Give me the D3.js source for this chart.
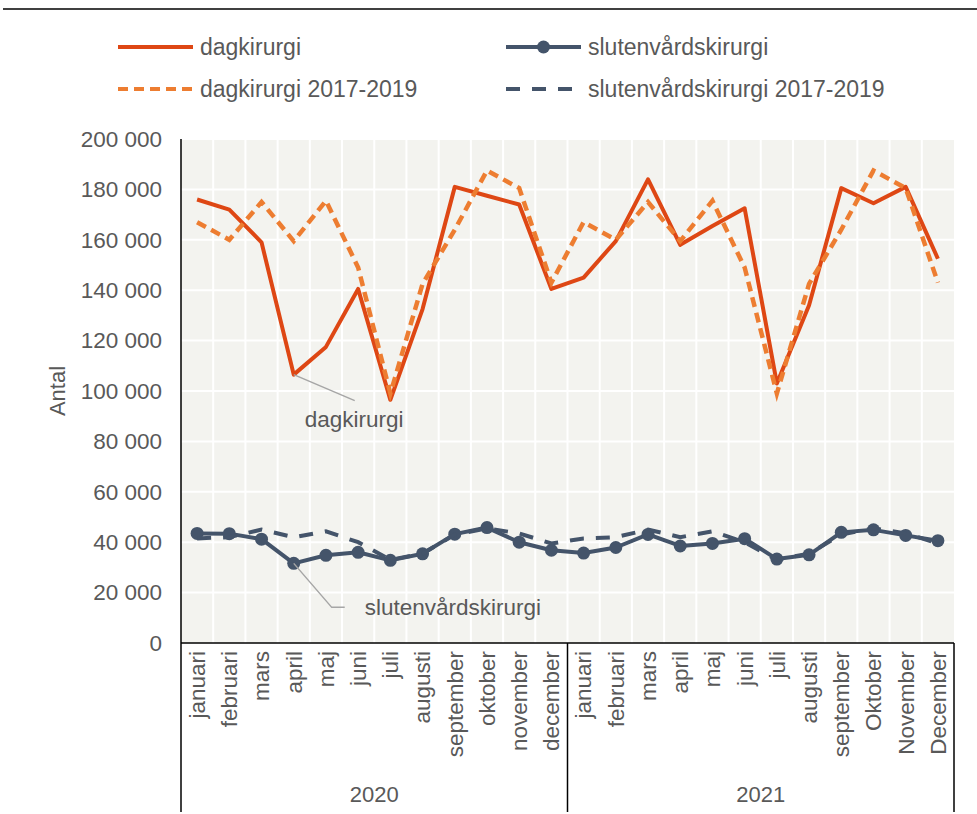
<!DOCTYPE html>
<html lang='sv'>
<head>
  <meta charset='utf-8'>
  <script src="https://d3js.org/d3.v7.min.js"></script>
  <title>Dagkirurgi och slutenvårdskirurgi 2020-2021</title>
  <style>
    body { margin: 0; background: #fff; }
    text { font-family: "Liberation Sans", Arial, sans-serif; fill: #595959; }
  </style>
</head>
<body>
  <div id="chart"></div>
  <script>
    // categories
    const months2020 = ["januari", "februari", "mars", "april", "maj", "juni", "juli",
      "augusti", "september", "oktober", "november", "december"];
    const months2021 = ["januari", "februari", "mars", "april", "maj", "juni", "juli",
      "augusti", "september", "Oktober", "November", "December"];
    const years = ["2020", "2021"];

    // series values
    const dagkirurgi = [176000, 172000, 159000, 106500, 117500, 140500, 96500, 132500, 181000, 177500, 174000, 140500,
      145000, 159500, 184000, 158000, 165500, 172500, 103000, 134000, 180500, 174500, 181000, 152500];
    const sluten = [43500, 43400, 41200, 31600, 34800, 36000, 32800, 35400, 43200, 45800, 40000, 36800,
      35700, 37900, 43100, 38500, 39500, 41400, 33300, 35000, 43900, 44900, 42700, 40600];
    // monthly average 2017-2019, the same baseline for both years
    const dag1719 = [167000, 160000, 175000, 159500, 175500, 149000, 99000, 142500, 164000, 187500, 180500, 143000];
    const sluten1719 = [41500, 42000, 45000, 42000, 44300, 40000, 33000, 35500, 43000, 45500, 43500, 39500];

    const yTicks = [0, 20000, 40000, 60000, 80000, 100000, 120000, 140000, 160000, 180000, 200000];

    const labels = months2020.concat(months2021);
    const dagBase = dag1719.concat(dag1719);
    const slutenBase = sluten1719.concat(sluten1719);

    const W = 977, H = 814;
    const plot = {left: 181, right: 954, top: 139, bottom: 643};

    const svg = d3.select("#chart").append("svg")
      .attr("width", W).attr("height", H);

    // top rule
    svg.append("line")
      .attr("x1", 3).attr("x2", W).attr("y1", 9).attr("y2", 9)
      .attr("stroke", "#000").attr("stroke-width", 1.5);

    const x = d3.scaleBand().domain(d3.range(labels.length)).range([plot.left, plot.right]);
    const y = d3.scaleLinear().domain([0, 200000]).range([plot.bottom, plot.top]);
    const cx = i => x(i) + x.bandwidth() / 2;

    // plot background
    svg.append("rect")
      .attr("x", plot.left).attr("y", plot.top)
      .attr("width", plot.right - plot.left).attr("height", plot.bottom - plot.top)
      .attr("fill", "#f3f3ef");

    // grid
    svg.append("g").selectAll("line")
      .data(yTicks.slice(1))
      .join("line")
      .attr("x1", plot.left).attr("x2", plot.right)
      .attr("y1", d => y(d)).attr("y2", d => y(d))
      .attr("stroke", "#fff").attr("stroke-width", 2);
    svg.append("g").selectAll("line")
      .data(d3.range(1, labels.length))
      .join("line")
      .attr("x1", d => x(d)).attr("x2", d => x(d))
      .attr("y1", plot.top).attr("y2", plot.bottom)
      .attr("stroke", "#fff").attr("stroke-width", 2);

    // y axis
    const yAxis = svg.append("g")
      .attr("transform", `translate(${plot.left},0)`)
      .call(d3.axisLeft(y).tickValues(yTicks).tickSize(0).tickPadding(19)
        .tickFormat(d => d3.format(",")(d).replace(/,/g, " ")));
    yAxis.select(".domain").remove();
    yAxis.selectAll("text")
      .style("font-size", "22.5px").attr("fill", "#595959");

    svg.append("text")
      .attr("transform", `translate(65,${(plot.top + plot.bottom) / 2}) rotate(-90)`)
      .attr("text-anchor", "middle")
      .style("font-size", "22px")
      .text("Antal");

    // lines
    const line = d3.line().x((d, i) => cx(i)).y(d => y(d));

    svg.append("path").datum(dagkirurgi)
      .attr("d", line).attr("fill", "none")
      .attr("stroke", "#de4714").attr("stroke-width", 4)
      .attr("stroke-linejoin", "round");

    svg.append("path").datum(sluten)
      .attr("d", line).attr("fill", "none")
      .attr("stroke", "#44546a").attr("stroke-width", 4)
      .attr("stroke-linejoin", "round");
    svg.append("g").selectAll("circle")
      .data(sluten)
      .join("circle")
      .attr("cx", (d, i) => cx(i)).attr("cy", d => y(d))
      .attr("r", 6.5).attr("fill", "#44546a");

    svg.append("path").datum(dagBase)
      .attr("d", line).attr("fill", "none")
      .attr("stroke", "#ed7d31").attr("stroke-width", 4.5)
      .attr("stroke-dasharray", "10,6");

    svg.append("path").datum(slutenBase)
      .attr("d", line).attr("fill", "none")
      .attr("stroke", "#44546a").attr("stroke-width", 4)
      .attr("stroke-dasharray", "14,12");

    // annotations
    const ai = 3; // april 2020
    svg.append("line")
      .attr("x1", cx(ai)).attr("y1", y(dagkirurgi[ai]))
      .attr("x2", cx(ai) + 61).attr("y2", y(dagkirurgi[ai]) + 26)
      .attr("stroke", "#a6a6a6").attr("stroke-width", 1.5);
    svg.append("text")
      .attr("x", cx(ai) + 11).attr("y", y(dagkirurgi[ai]) + 52)
      .style("font-size", "22.5px").attr("fill", "#404040")
      .text("dagkirurgi");

    svg.append("polyline")
      .attr("points", [[cx(ai), y(sluten[ai])], [cx(ai) + 38, y(sluten[ai]) + 44], [cx(ai) + 51, y(sluten[ai]) + 44]].join(" "))
      .attr("fill", "none").attr("stroke", "#a6a6a6").attr("stroke-width", 1.5);
    svg.append("text")
      .attr("x", cx(ai) + 71).attr("y", y(sluten[ai]) + 52)
      .style("font-size", "22.5px").attr("fill", "#404040")
      .text("slutenvårdskirurgi");

    // x axis box
    const boxBottom = 812;
    svg.append("line")
      .attr("x1", plot.left).attr("x2", plot.right)
      .attr("y1", plot.bottom).attr("y2", plot.bottom)
      .attr("stroke", "#000").attr("stroke-width", 1.5);
    svg.append("g").selectAll("line")
      .data([0, 12, 24])
      .join("line")
      .attr("x1", d => d < 24 ? x(d) : plot.right).attr("x2", d => d < 24 ? x(d) : plot.right)
      .attr("y1", d => d === 0 ? plot.top : plot.bottom).attr("y2", boxBottom)
      .attr("stroke", "#000").attr("stroke-width", 1.5);

    svg.append("g").selectAll("text")
      .data(labels)
      .join("text")
      .attr("transform", (d, i) => `translate(${cx(i)},${plot.bottom + 8}) rotate(-90)`)
      .attr("text-anchor", "end")
      .attr("dy", "0.35em")
      .style("font-size", "22.5px")
      .text(d => d);

    svg.append("g").selectAll("text")
      .data(years)
      .join("text")
      .attr("x", (d, i) => (x(i * 12) + (i === 1 ? plot.right : x(12))) / 2)
      .attr("y", 802)
      .attr("text-anchor", "middle")
      .style("font-size", "22px")
      .text(d => d);

    // legend
    const legend = [
      {name: "dagkirurgi", color: "#de4714", dash: null, dot: false, lx: 118, ly: 47},
      {name: "slutenvårdskirurgi", color: "#44546a", dash: null, dot: true, lx: 506, ly: 47},
      {name: "dagkirurgi 2017-2019", color: "#ed7d31", dash: "10,6", dot: false, lx: 118, ly: 89},
      {name: "slutenvårdskirurgi 2017-2019", color: "#44546a", dash: "14,12", dot: false, lx: 506, ly: 89}
    ];
    const lg = svg.append("g").selectAll("g").data(legend).join("g")
      .attr("transform", d => `translate(${d.lx},${d.ly})`);
    lg.append("line")
      .attr("x1", 0).attr("x2", 75).attr("y1", 0).attr("y2", 0)
      .attr("stroke", d => d.color).attr("stroke-width", 4)
      .attr("stroke-dasharray", d => d.dash);
    lg.filter(d => d.dot).append("circle")
      .attr("cx", 37.5).attr("cy", 0).attr("r", 6.5).attr("fill", d => d.color);
    lg.append("text")
      .attr("x", 82).attr("dy", "0.35em")
      .style("font-size", "23px")
      .text(d => d.name);
  </script>
</body>
</html>
